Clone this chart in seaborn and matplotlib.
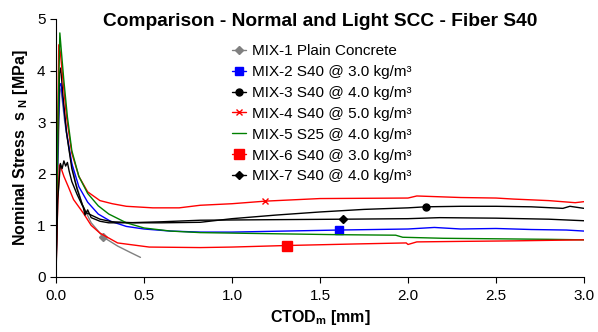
import matplotlib
matplotlib.use("Agg")
import matplotlib.pyplot as plt
import seaborn as sns

sns.set_style("ticks")
plt.rcParams['font.family'] = ['Liberation Sans', 'DejaVu Sans']
plt.rcParams['mathtext.fontset'] = 'custom'
plt.rcParams['mathtext.rm'] = 'Liberation Sans'
plt.rcParams['mathtext.bf'] = 'Liberation Sans:bold'
plt.rcParams['text.color'] = 'black'
plt.rcParams['axes.labelcolor'] = 'black'

# MIX-1 Plain Concrete
x1 = [0, 0.01, 0.022, 0.03, 0.05, 0.08, 0.11, 0.15, 0.2, 0.27, 0.35, 0.42, 0.48]
y1 = [0, 2.0, 3.65, 3.6, 3.0, 2.35, 1.85, 1.4, 1.05, 0.77, 0.6, 0.48, 0.38]
# MIX-2 S40 @ 3.0
x2 = [0, 0.01, 0.02, 0.028, 0.04, 0.06, 0.09, 0.13, 0.18, 0.24, 0.31, 0.4, 0.5, 0.65, 0.82,
      1.0, 1.3, 1.61, 2.0, 2.15, 2.3, 2.5, 2.7, 2.9, 3.0]
y2 = [0, 2.4, 3.7, 3.75, 3.4, 2.8, 2.2, 1.75, 1.45, 1.22, 1.08, 0.98, 0.93, 0.89, 0.87,
      0.87, 0.89, 0.91, 0.93, 0.96, 0.93, 0.94, 0.92, 0.91, 0.89]
# MIX-3 S40 @ 4.0
x3 = [0, 0.01, 0.02, 0.027, 0.04, 0.06, 0.09, 0.12, 0.15, 0.17, 0.2, 0.25, 0.32, 0.45, 0.6, 0.82,
      1.0, 1.25, 1.5, 1.75, 2.0, 2.1, 2.3, 2.5, 2.7, 2.88, 2.92, 3.0]
y3 = [0, 2.6, 3.95, 4.05, 3.5, 2.8, 2.1, 1.7, 1.4, 1.25, 1.2, 1.12, 1.07, 1.05, 1.05, 1.06,
      1.13, 1.2, 1.26, 1.31, 1.34, 1.36, 1.37, 1.37, 1.36, 1.33, 1.37, 1.33]
# MIX-4 S40 @ 5.0
x4 = [0, 0.008, 0.016, 0.025, 0.04, 0.06, 0.09, 0.13, 0.18, 0.25, 0.32, 0.4, 0.55, 0.7, 0.82,
      1.0, 1.19, 1.5, 2.0, 2.05, 2.3, 2.5, 2.6, 2.8, 2.95, 3.0]
y4 = [0, 2.5, 4.5, 4.35, 3.8, 3.1, 2.4, 1.95, 1.65, 1.48, 1.42, 1.37, 1.34, 1.34, 1.39,
      1.42, 1.47, 1.52, 1.53, 1.57, 1.54, 1.53, 1.51, 1.48, 1.44, 1.46]
# MIX-5 S25 @ 4.0
x5 = [0, 0.01, 0.022, 0.03, 0.045, 0.065, 0.09, 0.13, 0.18, 0.24, 0.3, 0.4, 0.5, 0.65, 0.82,
      1.2, 1.6, 1.93, 1.97, 2.2, 2.5, 2.8, 3.0]
y5 = [0, 2.8, 4.73, 4.4, 3.8, 3.1, 2.45, 1.95, 1.62, 1.38, 1.22, 1.05, 0.95, 0.89, 0.86,
      0.84, 0.82, 0.81, 0.77, 0.75, 0.74, 0.73, 0.72]
# MIX-6 S40 @ 3.0 (light)
x6 = [0, 0.01, 0.02, 0.03, 0.045, 0.07, 0.1, 0.155, 0.2, 0.25, 0.35, 0.53, 0.82, 1.0, 1.31,
      1.7, 1.99, 2.0, 2.05, 2.3, 2.6, 3.0]
y6 = [0.1, 1.4, 2.17, 2.1, 1.95, 1.75, 1.5, 1.24, 1.0, 0.85, 0.66, 0.58, 0.57, 0.58, 0.61,
      0.64, 0.66, 0.63, 0.68, 0.69, 0.7, 0.72]
# MIX-7 S40 @ 4.0 (light)
x7 = [0, 0.01, 0.025, 0.035, 0.045, 0.055, 0.065, 0.075, 0.09, 0.12, 0.155, 0.165, 0.18, 0.2,
      0.25, 0.3, 0.4, 0.6, 0.82, 1.2, 1.63, 2.0, 2.18, 2.5, 2.8, 3.0]
y7 = [0, 1.5, 2.2, 2.1, 2.25, 2.15, 2.22, 2.05, 1.85, 1.6, 1.35, 1.2, 1.3, 1.15,
      1.08, 1.05, 1.05, 1.07, 1.10, 1.11, 1.12, 1.13, 1.15, 1.14, 1.12, 1.09]

labels = ["MIX-1 Plain Concrete", "MIX-2 S40 @ 3.0 kg/m³", "MIX-3 S40 @ 4.0 kg/m³",
          "MIX-4 S40 @ 5.0 kg/m³", "MIX-5 S25 @ 4.0 kg/m³", "MIX-6 S40 @ 3.0 kg/m³",
          "MIX-7 S40 @ 4.0 kg/m³"]

series = [
    (x1, y1, "#808080", "D", 4, 9),
    (x2, y2, "#0000ff", "s", 6, 17),
    (x3, y3, "#000000", "o", 5, 21),
    (x4, y4, "#ff0000", "x", 5, 16),
    (x5, y5, "#008000", "", 0, None),
    (x6, y6, "#ff0000", "s", 7, 14),
    (x7, y7, "#000000", "D", 4.5, 20),
]

fig = plt.figure(figsize=(5.98, 3.32), dpi=100)
ax = fig.add_axes([0.0936, 0.1657, 0.883, 0.7771])

for (xs, ys, c, m, ms, idx), lab in zip(series, labels):
    kw = dict(marker=m, markersize=ms, markevery=[idx], mec=c, mfc=c, mew=1) if m else {}
    sns.lineplot(x=xs, y=ys, color=c, lw=1, sort=False, estimator=None,
                 ax=ax, label=lab, **kw)

ax.set_xlim(0, 3.0)
ax.set_ylim(0, 5)
ax.set_xticks([0, 0.5, 1.0, 1.5, 2.0, 2.5, 3.0])
ax.set_xticklabels(["0.0", "0.5", "1.0", "1.5", "2.0", "2.5", "3.0"])
ax.set_yticks([0, 1, 2, 3, 4, 5])
ax.tick_params(labelsize=11, length=4, width=0.8, colors="black")
ax.tick_params(axis="x", pad=5)
for s in ax.spines.values():
    s.set_color("black")
sns.despine(ax=ax)

ax.set_xlabel(r"CTOD$_\mathbf{m}$ [mm]", fontsize=11.5, fontweight="bold", labelpad=3)
ax.set_ylabel(r"Nominal Stress  s $_\mathbf{N}$ [MPa]", fontsize=11.5, fontweight="bold",
              labelpad=5)

fig.text(0.535, 0.934, "Comparison - Normal and Light SCC - Fiber S40",
         ha="center", va="center", fontsize=13.8, fontweight="bold")

ax.legend(loc="upper left", bbox_to_anchor=(0.375, 0.89), bbox_transform=fig.transFigure,
          frameon=False, fontsize=11, handlelength=0.9, handletextpad=0.4,
          labelspacing=0.45, borderpad=0)

fig.savefig("out.png", dpi=100)
